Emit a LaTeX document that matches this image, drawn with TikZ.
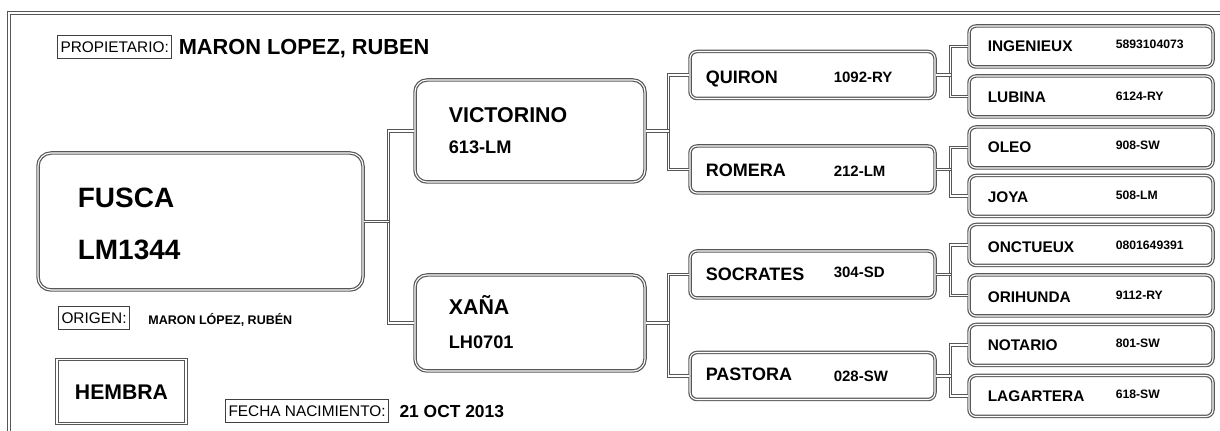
\documentclass[tikz,border=0pt]{standalone}
\usepackage{fontspec}
\setmainfont{Liberation Sans}
\usetikzlibrary{positioning}

\tikzset{
  frame/.style={draw=black!66, double=white, double distance=0.55pt, line width=0.6pt},
  link/.style={frame},
  bigbox/.style={frame, rounded corners=6.5pt, minimum width=162.5pt, minimum height=68.5pt},
  midbox/.style={frame, rounded corners=6pt, minimum width=115pt},
  sirebox/.style={frame, rounded corners=3.5pt, minimum width=122.5pt, minimum height=23.5pt},
  grandbox/.style={frame, rounded corners=3.5pt, minimum width=122pt, minimum height=20.5pt},
  tag/.style={draw=black!75, line width=0.5pt, inner sep=1.5pt, minimum height=11.5pt,
    font=\fontsize{7.7}{9}\selectfont, text height=5.5pt, text depth=0pt},
  bigtxt/.style={anchor=west, inner sep=0pt, font=\bfseries\fontsize{14}{16}\selectfont, text height=10pt, text depth=0pt},
  midname/.style={anchor=west, inner sep=0pt, font=\bfseries\fontsize{10.7}{12}\selectfont, text height=7.7pt, text depth=0pt},
  midcode/.style={anchor=west, inner sep=0pt, font=\bfseries\fontsize{9.1}{11}\selectfont, text height=6.5pt, text depth=0pt},
  sirename/.style={anchor=west, inner sep=0pt, font=\bfseries\fontsize{9}{11}\selectfont, text height=6.45pt, text depth=0pt},
  sirecode/.style={anchor=west, inner sep=0pt, font=\bfseries\fontsize{7.5}{9}\selectfont, text height=5.4pt, text depth=0pt},
  grandname/.style={anchor=west, inner sep=0pt, font=\bfseries\fontsize{7.7}{9}\selectfont, text height=5.5pt, text depth=0pt},
  grandcode/.style={anchor=west, inner sep=0pt, font=\bfseries\fontsize{6.1}{7}\selectfont, text height=4.4pt, text depth=0pt}
}

\begin{document}
\begin{tikzpicture}[x=0.5pt, y=-0.5pt]
\useasboundingbox (0,0) rectangle (1220,431);
% outer frame
\draw[frame] (9,433) -- (9,13) -- (1222,13);

% header and footer labels
\node[tag, anchor=west] (prop) at (57,47) {PROPIETARIO:};
\node[right=3pt of prop, inner sep=0pt, font=\bfseries\fontsize{10.9}{12}\selectfont, text height=7.8pt, text depth=0pt] (owner) {MARON LOPEZ, RUBEN};
\node[tag, anchor=west] (origen) at (58,318.5) {ORIGEN:};
\node[right=9pt of origen, inner sep=0pt, font=\bfseries\fontsize{6.25}{7}\selectfont, text height=4.5pt, text depth=0pt, yshift=-1pt] (breeder) {MARON LÓPEZ, RUBÉN};
\node[frame, minimum width=64.5pt, minimum height=32pt, font=\bfseries\fontsize{10.6}{12}\selectfont, text height=7.6pt, text depth=0pt] (hembra) at (121.5,391.5) {HEMBRA};
\node[tag, anchor=west] (fecha) at (225,411) {FECHA NACIMIENTO:};
\node[right=5pt of fecha, inner sep=0pt, font=\bfseries\fontsize{8.7}{10}\selectfont, text height=6.2pt, text depth=0pt] (birth) {21 OCT 2013};

% animal
\node[bigbox] (fusca) at (200.5,221.5) {};
\node[bigtxt] (fuscaname) at ([xshift=20pt,yshift=11.75pt]fusca.west) {FUSCA};
\node[bigtxt] (fuscacode) at ([xshift=20pt,yshift=-14.25pt]fusca.west) {LM1344};

% parents
\node[midbox, minimum height=51pt] (victorino) at (530,131) {};
\node[midname] at ([xshift=17pt,yshift=8pt]victorino.west) {VICTORINO};
\node[midcode] at ([xshift=17pt,yshift=-8pt]victorino.west) {613-LM};
\node[midbox, minimum height=48pt] (xana) at (530,323) {};
\node[midname] at ([xshift=17pt,yshift=8pt]xana.west) {XAÑA};
\node[midcode] at ([xshift=17pt,yshift=-9.5pt]xana.west) {LH0701};

% grandparents
\node[sirebox] (quiron) at (812.5,75) {};
\node[sirename] at ([xshift=8pt,yshift=-1pt]quiron.west) {QUIRON};
\node[sirecode] at ([xshift=72pt,yshift=-1pt]quiron.west) {1092-RY};
\node[sirebox] (romera) at (812.5,169.5) {};
\node[sirename] at ([xshift=8pt,yshift=-0.5pt]romera.west) {ROMERA};
\node[sirecode] at ([xshift=72pt,yshift=-1pt]romera.west) {212-LM};
\node[sirebox] (socrates) at (812.5,274.5) {};
\node[sirename] at ([xshift=8pt]socrates.west) {SOCRATES};
\node[sirecode] at ([xshift=72pt,yshift=1pt]socrates.west) {304-SD};
\node[sirebox] (pastora) at (812.5,376) {};
\node[sirename] at ([xshift=8pt,yshift=1pt]pastora.west) {PASTORA};
\node[sirecode] at ([xshift=72pt]pastora.west) {028-SW};

% great-grandparents
\node[grandbox] (ingenieux) at (1091,46.5) {};
\node[grandname] at ([xshift=9.5pt]ingenieux.west) {INGENIEUX};
\node[grandcode] at ([xshift=73.5pt,yshift=1pt]ingenieux.west) {5893104073};
\node[grandbox] (lubina) at (1091,96.5) {};
\node[grandname] at ([xshift=9.5pt,yshift=-0.5pt]lubina.west) {LUBINA};
\node[grandcode] at ([xshift=73.5pt]lubina.west) {6124-RY};
\node[grandbox] (oleo) at (1091,147.5) {};
\node[grandname] at ([xshift=9.5pt]oleo.west) {OLEO};
\node[grandcode] at ([xshift=73.5pt,yshift=1pt]oleo.west) {908-SW};
\node[grandbox] (joya) at (1091,196) {};
\node[grandname] at ([xshift=9.5pt,yshift=-0.5pt]joya.west) {JOYA};
\node[grandcode] at ([xshift=73.5pt,yshift=0.5pt]joya.west) {508-LM};
\node[grandbox] (onctueux) at (1091,245) {};
\node[grandname] at ([xshift=9.5pt,yshift=-1pt]onctueux.west) {ONCTUEUX};
\node[grandcode] at ([xshift=73.5pt]onctueux.west) {0801649391};
\node[grandbox] (orihunda) at (1091,295.5) {};
\node[grandname] at ([xshift=9.5pt,yshift=-1pt]orihunda.west) {ORIHUNDA};
\node[grandcode] at ([xshift=73.5pt]orihunda.west) {9112-RY};
\node[grandbox] (notario) at (1091,345) {};
\node[grandname] at ([xshift=9.5pt]notario.west) {NOTARIO};
\node[grandcode] at ([xshift=73.5pt,yshift=1pt]notario.west) {801-SW};
\node[grandbox] (lagartera) at (1091,396) {};
\node[grandname] at ([xshift=9.5pt]lagartera.west) {LAGARTERA};
\node[grandcode] at ([xshift=73.5pt,yshift=1pt]lagartera.west) {618-SW};

% connectors
\coordinate (j1) at ([xshift=12.5pt]fusca.east);
\coordinate (j2) at ([xshift=11.5pt]victorino.east);
\coordinate (j3) at ([xshift=11.5pt]xana.east);
\coordinate (j4) at ([xshift=7.5pt]quiron.east);
\coordinate (j5) at ([xshift=7.5pt]romera.east);
\coordinate (j6) at ([xshift=7.5pt]socrates.east);
\coordinate (j7) at ([xshift=7.5pt]pastora.east);
\draw[link] (victorino.west) -| (j1) |- (xana.west);
\draw[link] (fusca.east) -- (j1);
\draw[link] (quiron.west) -| (j2) |- (romera.west);
\draw[link] (victorino.east) -- (j2);
\draw[link] (socrates.west) -| (j3) |- (pastora.west);
\draw[link] (xana.east) -- (j3);
\draw[link] (ingenieux.west) -| (j4) |- (lubina.west);
\draw[link] (quiron.east) -- (j4);
\draw[link] (oleo.west) -| (j5) |- (joya.west);
\draw[link] (romera.east) -- (j5);
\draw[link] (onctueux.west) -| (j6) |- (orihunda.west);
\draw[link] (socrates.east) -- (j6);
\draw[link] (notario.west) -| (j7) |- (lagartera.west);
\draw[link] (pastora.east) -- (j7);
\end{tikzpicture}
\end{document}
